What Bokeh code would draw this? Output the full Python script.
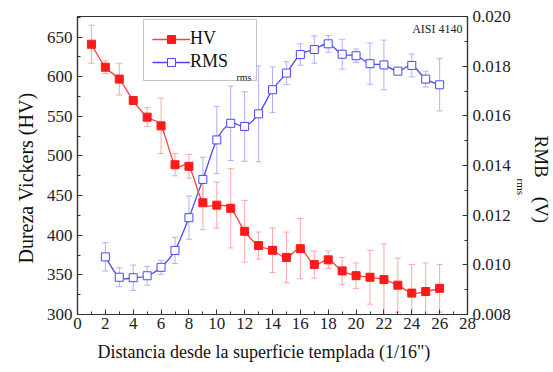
import math
from bokeh.plotting import figure
from bokeh.models import (Range1d, LinearAxis, SingleIntervalTicker, PrintfTickFormatter,
                          ColumnDataSource, Whisker, TeeHead, Legend, LegendItem, Label, Title)
from bokeh.embed import file_html
from bokeh.resources import INLINE

# ---------------- data ----------------
x_hv = list(range(1, 27))
hv = [641, 612, 597, 570, 549, 538, 489, 487, 441, 438, 434, 405, 387,
      381, 372, 383, 363, 369, 355, 349, 347, 344, 337, 327, 329, 333]
hv_err = [24, 8, 20, 2, 12, 35, 14, 15, 34, 29, 50, 39, 17,
          28, 32, 38, 17, 11, 17, 16, 34, 45, 34, 36, 36, 30]

x_rms = list(range(2, 27))
rms = [0.01032, 0.00950, 0.00948, 0.00956, 0.00990, 0.01058, 0.01190, 0.01344,
       0.01503, 0.01570, 0.01557, 0.01608, 0.01705, 0.01772, 0.01847, 0.01867,
       0.01890, 0.01848, 0.01842, 0.01810, 0.01805, 0.01780, 0.01803, 0.01748, 0.01725]
rms_err = [0.00057, 0.00038, 0.00051, 0.00038, 0.00028, 0.00053, 0.00087, 0.00089,
           0.00135, 0.00150, 0.00140, 0.00193, 0.00092, 0.00046, 0.00043, 0.00055,
           0.00034, 0.00060, 0.00027, 0.00083, 0.00100, 0.00010, 0.00046, 0.00032, 0.00105]

FONT = "Liberation Serif"
RED = "#ff1a1a"
RED_LINE = "#ff4040"
RED_ERR = "#ffa6a6"
BLUE = "#4848ff"
BLUE_ERR = "#b0b0ff"
TXT = "#111111"


def catmull_bezier(xs, ys):
    n = len(xs)
    d = dict(x0=[], y0=[], x1=[], y1=[], cx0=[], cy0=[], cx1=[], cy1=[])
    for i in range(n - 1):
        a = i - 1 if i > 0 else i
        b = i + 2 if i + 2 < n else i + 1
        d["x0"].append(xs[i]); d["y0"].append(ys[i])
        d["x1"].append(xs[i + 1]); d["y1"].append(ys[i + 1])
        d["cx0"].append(xs[i] + (xs[i + 1] - xs[a]) / 6.0)
        d["cy0"].append(ys[i] + (ys[i + 1] - ys[a]) / 6.0)
        d["cx1"].append(xs[i + 1] - (xs[b] - xs[i]) / 6.0)
        d["cy1"].append(ys[i + 1] - (ys[b] - ys[i]) / 6.0)
    return ColumnDataSource(d)


p = figure(width=553, height=372, x_range=Range1d(0, 28), y_range=Range1d(300, 676),
           output_backend="svg", toolbar_location=None,
           min_border_left=77, min_border_right=83, min_border_top=16, min_border_bottom=58)
p.xgrid.visible = False
p.ygrid.visible = False
p.outline_line_color = "#333333"
p.outline_line_width = 1.2
p.background_fill_color = "white"
p.border_fill_color = "white"

p.extra_y_ranges = {"rms": Range1d(0.008, 0.020)}


def style_axis(ax):
    ax.axis_line_color = "#333333"
    ax.axis_line_width = 1.2
    ax.major_tick_in = 5
    ax.major_tick_out = 0
    ax.minor_tick_in = 3
    ax.minor_tick_out = 0
    ax.major_tick_line_color = "#333333"
    ax.minor_tick_line_color = "#333333"
    ax.major_label_text_font = FONT
    ax.major_label_text_font_size = "17px"
    ax.major_label_text_color = "#222222"


xa = p.xaxis[0]
xa.ticker = SingleIntervalTicker(interval=2, num_minor_ticks=2)
style_axis(xa)
xa.major_label_standoff = 3

ya = p.yaxis[0]
ya.ticker = SingleIntervalTicker(interval=50, num_minor_ticks=2)
style_axis(ya)
ya.major_label_standoff = 5

ra = LinearAxis(y_range_name="rms", ticker=SingleIntervalTicker(interval=0.002, num_minor_ticks=2),
                formatter=PrintfTickFormatter(format="%.3f"))
style_axis(ra)
ra.major_label_standoff = 5
p.add_layout(ra, "right")

# axis titles (as side titles so they can be offset like the original)
p.add_layout(Title(text="Dureza Vickers (HV)", align="left", offset=51, standoff=13,
                   text_font=FONT, text_font_size="20px", text_font_style="normal",
                   text_color=TXT), "left")
p.add_layout(Title(text='Distancia desde la superficie templada (1/16")', align="left",
                   offset=20, standoff=16,
                   text_font=FONT, text_font_size="18px", text_font_style="normal",
                   text_color=TXT), "below")
# right axis title pieces: subscript nearest the axis, then main text
p.add_layout(Title(text="rms", align="left", offset=162, standoff=3,
                   text_font=FONT, text_font_size="11px", text_font_style="normal",
                   text_color=TXT), "right")
p.add_layout(Title(text="RMB\u2003(V)", align="left", offset=119, standoff=0,
                   text_font=FONT, text_font_size="19px", text_font_style="normal",
                   text_color=TXT), "right")

# ---------------- error bars ----------------
src_hv = ColumnDataSource(dict(x=x_hv, y=hv,
                               up=[v + e for v, e in zip(hv, hv_err)],
                               lo=[v - e for v, e in zip(hv, hv_err)]))
src_rms = ColumnDataSource(dict(x=x_rms, y=rms,
                                up=[v + e for v, e in zip(rms, rms_err)],
                                lo=[v - e for v, e in zip(rms, rms_err)]))

w_rms = Whisker(base="x", upper="up", lower="lo", source=src_rms, dimension="height",
                y_range_name="rms", line_color=BLUE_ERR, line_width=1,
                upper_head=TeeHead(size=6, line_color=BLUE_ERR, line_width=1),
                lower_head=TeeHead(size=6, line_color=BLUE_ERR, line_width=1))
w_hv = Whisker(base="x", upper="up", lower="lo", source=src_hv, dimension="height",
               line_color=RED_ERR, line_width=1,
               upper_head=TeeHead(size=6, line_color=RED_ERR, line_width=1),
               lower_head=TeeHead(size=6, line_color=RED_ERR, line_width=1))
p.add_layout(w_rms)
p.add_layout(w_hv)

# ---------------- curves ----------------
b_rms = p.bezier(x0="x0", y0="y0", x1="x1", y1="y1", cx0="cx0", cy0="cy0", cx1="cx1", cy1="cy1",
                 source=catmull_bezier(x_rms, rms), y_range_name="rms", line_color=BLUE, line_width=1.3)
s_rms = p.scatter("x", "y", source=src_rms, y_range_name="rms", marker="square", size=8,
                  fill_color="white", line_color=BLUE, line_width=1)

b_hv = p.bezier(x0="x0", y0="y0", x1="x1", y1="y1", cx0="cx0", cy0="cy0", cx1="cx1", cy1="cy1",
                source=catmull_bezier(x_hv, hv), line_color=RED_LINE, line_width=1.3)
s_hv = p.scatter("x", "y", source=src_hv, marker="square", size=8,
                 fill_color=RED, line_color=RED, line_width=1)

legend = Legend(items=[LegendItem(label="HV", renderers=[b_hv, s_hv]),
                       LegendItem(label="RMS", renderers=[b_rms, s_rms])],
                location=(66, 233), orientation="vertical",
                label_text_font=FONT, label_text_font_size="18px", label_text_color=TXT,
                glyph_width=38, glyph_height=20, label_height=20, label_standoff=0,
                label_width=58, padding=8, spacing=2, margin=0,
                border_line_color="#888888", border_line_width=1,
                background_fill_color="white", background_fill_alpha=0.0)
p.add_layout(legend)

# subscript in legend
p.add_layout(Label(x=159, y=237, x_units="screen", y_units="screen", text="rms",
                   text_font=FONT, text_font_size="10px", text_color=TXT,
                   text_baseline="middle", text_align="left", level="overlay"))

# annotation text
p.add_layout(Label(x=385, y=286, x_units="screen", y_units="screen", text="AISI 4140",
                   text_font=FONT, text_font_size="12px", text_color="#222222",
                   text_baseline="middle", text_align="right"))

open("out.html", "w").write(file_html(p, INLINE))
